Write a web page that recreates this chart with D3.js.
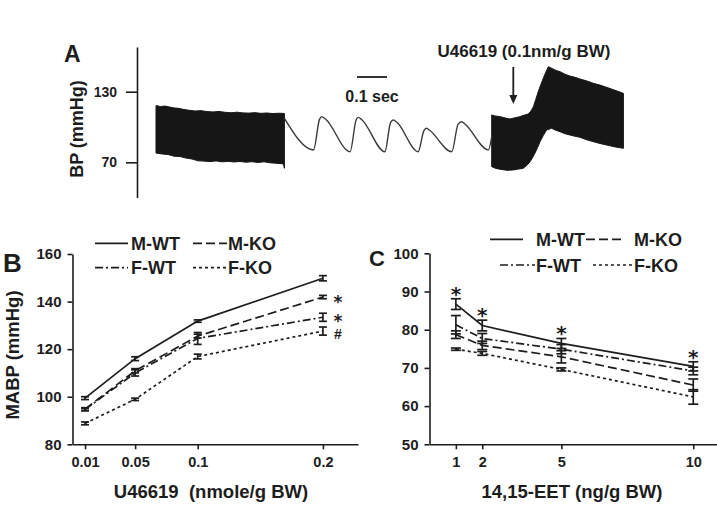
<!DOCTYPE html>
<html>
<head>
<meta charset="utf-8">
<script src="https://cdn.jsdelivr.net/npm/d3@7"></script>
<style>
  body { margin: 0; background: #fff; }
  svg { display: block; }
  text { font-family: "Liberation Sans", Arial, sans-serif; font-weight: bold; fill: #1d1d1d; }
  text.mark { font-family: "DejaVu Sans", sans-serif; }
</style>
</head>
<body>
<div id="chart"></div>
<script>
// ---- Panel A: BP trace (time in s, BP in mmHg) ----
const aTicks = [70, 130]
const block1Top = [[0,118.2],[0.015,117.4],[0.03,117.8],[0.045,117.0],[0.06,116.2],[0.075,115.9],[0.09,115.0],[0.11,114.2],[0.13,113.6],[0.15,113.9],[0.17,113.1],[0.19,112.8],[0.21,113.2],[0.23,112.5],[0.25,112.1],[0.27,112.6],[0.29,112.0],[0.31,111.8],[0.33,112.2],[0.35,111.6],[0.37,111.9],[0.39,111.4],[0.41,111.7],[0.428,111.5]]
const block1Bottom = [[0,77.9],[0.02,77.1],[0.04,76.6],[0.06,75.2],[0.08,74.9],[0.1,73.6],[0.12,72.8],[0.14,71.3],[0.16,71.0],[0.18,70.6],[0.2,71.2],[0.22,70.4],[0.24,70.8],[0.26,70.3],[0.28,70.7],[0.3,70.1],[0.32,70.5],[0.34,69.9],[0.36,70.4],[0.38,69.6],[0.40,69.2],[0.42,68.8],[0.425,68.4],[0.428,64.9]]
const wave = [[0.428,107.4],[0.525,80.5],[0.545,106.5],[0.553,108.8],[0.565,106.8],[0.647,79.0],[0.667,106],[0.674,108.2],[0.686,106.2],[0.763,79.0],[0.782,104],[0.791,106],[0.803,104],[0.874,79.0],[0.893,97],[0.902,98.9],[0.913,97],[0.986,79.0],[1.007,102.5],[1.019,104.5],[1.03,102.5],[1.108,80.5],[1.119,91.8]]
const block2Top = [[1.119,110.2],[1.13,109.4],[1.147,108.8],[1.165,107.6],[1.18,106.8],[1.197,107.9],[1.213,108.8],[1.228,110.1],[1.241,111.1],[1.25,113.6],[1.258,117.3],[1.266,123.5],[1.274,130.0],[1.283,136.2],[1.291,141.4],[1.3,147.0],[1.308,151.2],[1.314,150.6],[1.319,149.9],[1.333,148.1],[1.347,147.0],[1.363,144.9],[1.38,143.3],[1.397,142.2],[1.413,140.8],[1.435,139.2],[1.458,137.1],[1.48,135.6],[1.502,133.7],[1.53,131.2],[1.558,128.6]]
const block2Bottom = [[1.119,66.3],[1.133,64.8],[1.147,64.1],[1.17,63.2],[1.191,63.5],[1.208,64.2],[1.224,64.9],[1.236,67.4],[1.247,70.5],[1.255,73.9],[1.263,77.7],[1.272,82.6],[1.280,87.5],[1.291,92.8],[1.302,97.5],[1.319,98.9],[1.333,97.2],[1.347,96.0],[1.363,94.3],[1.38,93.2],[1.397,92.1],[1.413,91.3],[1.435,89.2],[1.458,87.5],[1.48,86.0],[1.502,84.7],[1.53,83.1],[1.558,81.9]]

// ---- Panel B: U46619 dose response ----
const dosesB = [0.01, 0.05, 0.1, 0.2]
const dosesBLabels = ["0.01", "0.05", "0.1", "0.2"]
const mwtB = [99.4, 116.0, 131.8, 149.8], mwtBse = [0.6, 0.8, 0.5, 1.1]
const mkoB = [94.8, 110.9, 125.5, 141.9], mkoBse = [0.6, 0.9, 0.8, 0.7]
const fwtB = [94.6, 110.0, 124.5, 133.4], fwtBse = [0.5, 1.3, 2.5, 1.7]
const fkoB = [88.8, 98.9, 116.9, 127.6], fkoBse = [0.6, 0.5, 1.0, 1.7]
const yTicksB = [80, 100, 120, 140, 160]

// ---- Panel C: 14,15-EET dose response ----
const dosesC = [1, 2, 5, 10]
const mwtC = [86.7, 81.1, 76.4, 70.4], mwtCse = [1.4, 1.4, 1.3, 1.2]
const fwtC = [81.3, 77.7, 74.9, 69.2], fwtCse = [2.4, 1.3, 1.2, 1.0]
const mkoC = [78.7, 75.9, 72.9, 65.5], mkoCse = [1.0, 1.1, 1.6, 1.6]
const fkoC = [74.9, 73.8, 69.6, 62.4], fkoCse = [0.3, 0.5, 0.4, 1.9]
const yTicksC = [50, 60, 70, 80, 90, 100]

const ink = "#1d1d1d"
const styles = {
  mwt: null,
  mko: "9,4",
  fwt: "8,3,2,3",
  fko: "3,3"
}

const svg = d3.select("#chart").append("svg")
  .attr("width", 717).attr("height", 507)

function styleAxis(g, size) {
  g.attr("font-family", null).attr("font-size", size)
  g.selectAll("path, line").attr("stroke", ink).attr("stroke-width", 1.6)
  g.selectAll("text").attr("fill", ink)
}

// ================= Panel A =================
const xA = d3.scaleLinear().domain([0, 1.56]).range([156, 624])
const yA = d3.scaleLinear().domain([70, 130]).range([162.3, 91.7])
const yAaxis = yA.copy().domain([40, 168]).range([yA(40), yA(168)])

svg.append("g")
  .attr("transform", "translate(137,0)")
  .call(d3.axisLeft(yAaxis).tickValues(aTicks).tickSize(11).tickPadding(9).tickSizeOuter(0))
  .call(g => styleAxis(g, 14))

function block(top, bottom) {
  const poly = top.map(d => [xA(d[0]), yA(d[1])])
    .concat(bottom.slice().reverse().map(d => [xA(d[0]), yA(d[1])]))
  svg.append("path")
    .attr("d", "M" + poly.join("L") + "Z")
    .attr("fill", "#161616")
    .attr("stroke", "#161616")
    .attr("stroke-width", 1)
}
block(block1Top, block1Bottom)
block(block2Top, block2Bottom)

svg.append("path")
  .datum(wave)
  .attr("fill", "none")
  .attr("stroke", "#3a3a3a")
  .attr("stroke-width", 1.4)
  .attr("stroke-linejoin", "round")
  .attr("d", d3.line().x(d => xA(d[0])).y(d => yA(d[1])).curve(d3.curveMonotoneX))

// scale bar
svg.append("line")
  .attr("x1", xA(0.67)).attr("x2", xA(0.77))
  .attr("y1", 77).attr("y2", 77)
  .attr("stroke", ink).attr("stroke-width", 1.8)
svg.append("text").attr("x", xA(0.72)).attr("y", 102)
  .attr("text-anchor", "middle").attr("font-size", 16).text("0.1 sec")

// arrow for injection
const arrowT = 1.191
svg.append("line")
  .attr("x1", xA(arrowT)).attr("x2", xA(arrowT))
  .attr("y1", 67).attr("y2", 98)
  .attr("stroke", ink).attr("stroke-width", 1.8)
svg.append("path")
  .attr("d", `M${xA(arrowT) - 4},95L${xA(arrowT) + 4},95L${xA(arrowT)},104Z`)
  .attr("fill", ink)
svg.append("text").attr("x", 524).attr("y", 57)
  .attr("text-anchor", "middle").attr("font-size", 17).text("U46619 (0.1nm/g BW)")

svg.append("text").attr("x", 64).attr("y", 62).attr("font-size", 23).text("A")
svg.append("text")
  .attr("transform", "translate(83,129) rotate(-90)")
  .attr("text-anchor", "middle").attr("font-size", 18).text("BP (mmHg)")

// ================= Panels B & C =================
function drawPanel(opts) {
  const { x, y, series, capW, xTickValues, xTickFormat, yTickValues, axisX, axisY } = opts

  svg.append("g")
    .attr("transform", `translate(0,${axisY})`)
    .call(d3.axisBottom(x).tickValues(xTickValues).tickFormat(xTickFormat).tickSize(5).tickPadding(7).tickSizeOuter(0))
    .call(g => styleAxis(g, 14.5))

  svg.append("g")
    .attr("transform", `translate(${axisX},0)`)
    .call(d3.axisLeft(y).tickValues(yTickValues).tickSize(5).tickPadding(6).tickSizeOuter(0))
    .call(g => styleAxis(g, 15))

  const line = d3.line().x(d => x(d.dose)).y(d => y(d.v))

  series.forEach(s => {
    const pts = s.doses.map((dose, i) => ({ dose, v: s.values[i], se: s.se[i] }))
    svg.append("path")
      .datum(pts)
      .attr("fill", "none")
      .attr("stroke", ink)
      .attr("stroke-width", 1.7)
      .attr("stroke-dasharray", styles[s.key])
      .attr("d", line)

    const eb = svg.append("g").attr("stroke", ink).attr("stroke-width", 1.7)
    pts.forEach(p => {
      const cx = x(p.dose)
      eb.append("line").attr("x1", cx).attr("x2", cx).attr("y1", y(p.v + p.se)).attr("y2", y(p.v - p.se))
      eb.append("line").attr("x1", cx - capW / 2).attr("x2", cx + capW / 2).attr("y1", y(p.v + p.se)).attr("y2", y(p.v + p.se))
      eb.append("line").attr("x1", cx - capW / 2).attr("x2", cx + capW / 2).attr("y1", y(p.v - p.se)).attr("y2", y(p.v - p.se))
    })
  })
}

function legend(items) {
  items.forEach(it => {
    svg.append("line")
      .attr("x1", it.x1).attr("x2", it.x2).attr("y1", it.y).attr("y2", it.y)
      .attr("stroke", ink).attr("stroke-width", 1.7)
      .attr("stroke-dasharray", styles[it.key])
    svg.append("text").attr("x", it.tx).attr("y", it.y + 6.5)
      .attr("font-size", 18).text(it.label)
  })
}

// ---- B ----
const xB = d3.scaleLinear().domain([0, 0.228]).range([72.5, 358])
const yB = d3.scaleLinear().domain([80, 160]).range([444.3, 254])
drawPanel({
  x: xB, y: yB, capW: 8, axisX: 72.5, axisY: 444.3,
  xTickValues: dosesB, xTickFormat: (d, i) => dosesBLabels[i], yTickValues: yTicksB,
  series: [
    { key: "mwt", doses: dosesB, values: mwtB, se: mwtBse },
    { key: "mko", doses: dosesB, values: mkoB, se: mkoBse },
    { key: "fwt", doses: dosesB, values: fwtB, se: fwtBse },
    { key: "fko", doses: dosesB, values: fkoB, se: fkoBse }
  ]
})
legend([
  { key: "mwt", x1: 95, x2: 128, y: 243.3, tx: 131, label: "M-WT" },
  { key: "mko", x1: 193, x2: 227, y: 243.3, tx: 228, label: "M-KO" },
  { key: "fwt", x1: 95, x2: 128, y: 267.7, tx: 131, label: "F-WT" },
  { key: "fko", x1: 193, x2: 227, y: 267.7, tx: 228, label: "F-KO" }
])
// significance marks at the top dose
svg.append("text").attr("class", "mark").attr("x", xB(0.2) + 15).attr("y", yB(mkoB[3]) + 10.5).attr("text-anchor", "middle").attr("font-size", 17).text("*")
svg.append("text").attr("class", "mark").attr("x", xB(0.2) + 15).attr("y", yB(fwtB[3]) + 9.5).attr("text-anchor", "middle").attr("font-size", 17).text("*")
svg.append("text").attr("x", xB(0.2) + 15).attr("y", yB(fkoB[3]) + 7.5).attr("text-anchor", "middle").attr("font-size", 14).text("#")

svg.append("text").attr("x", 3).attr("y", 272).attr("font-size", 26).text("B")
svg.append("text")
  .attr("transform", "translate(19,355) rotate(-90)")
  .attr("text-anchor", "middle").attr("font-size", 18.5).text("MABP (mmHg)")
svg.append("text").attr("x", 211).attr("y", 498)
  .attr("text-anchor", "middle").attr("font-size", 18.5).attr("xml:space", "preserve")
  .text("U46619  (nmole/g BW)")

// ---- C ----
const xC = d3.scaleLinear().domain([0, 10.9]).range([429.5, 717])
const yC = d3.scaleLinear().domain([50, 100]).range([444.3, 253.3])
drawPanel({
  x: xC, y: yC, capW: 10, axisX: 429.5, axisY: 444.3,
  xTickValues: dosesC, xTickFormat: d3.format("d"), yTickValues: yTicksC,
  series: [
    { key: "mwt", doses: dosesC, values: mwtC, se: mwtCse },
    { key: "fwt", doses: dosesC, values: fwtC, se: fwtCse },
    { key: "mko", doses: dosesC, values: mkoC, se: mkoCse },
    { key: "fko", doses: dosesC, values: fkoC, se: fkoCse }
  ]
})
legend([
  { key: "mwt", x1: 490, x2: 523, y: 239.3, tx: 536, label: "M-WT" },
  { key: "mko", x1: 586, x2: 625, y: 239.3, tx: 634, label: "M-KO" },
  { key: "fwt", x1: 500, x2: 535, y: 265, tx: 536, label: "F-WT" },
  { key: "fko", x1: 593, x2: 633, y: 265, tx: 634, label: "F-KO" }
])
dosesC.forEach((d, i) => {
  const top = d3.max([mwtC[i] + mwtCse[i], fwtC[i] + fwtCse[i], mkoC[i] + mkoCse[i], fkoC[i] + fkoCse[i]])
  svg.append("text").attr("class", "mark").attr("x", xC(d)).attr("y", yC(top) + 2)
    .attr("text-anchor", "middle").attr("font-size", 20).text("*")
})

svg.append("text").attr("x", 369).attr("y", 266).attr("font-size", 22).text("C")
svg.append("text").attr("x", 572).attr("y", 498)
  .attr("text-anchor", "middle").attr("font-size", 18.5).text("14,15-EET (ng/g BW)")
</script>
</body>
</html>
